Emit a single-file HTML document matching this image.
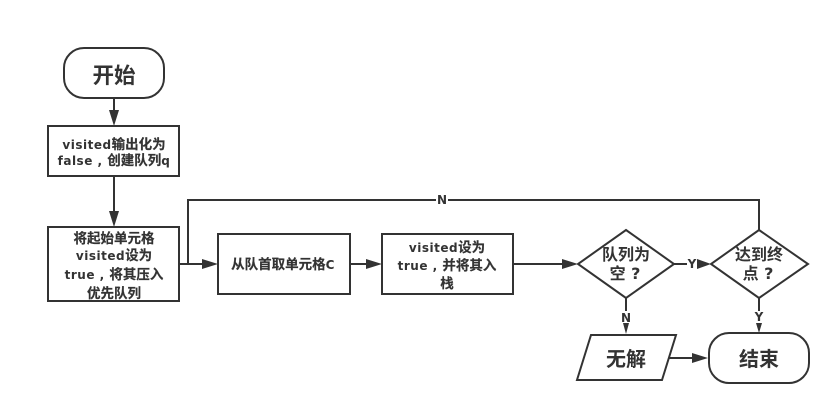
<!DOCTYPE html>
<html>
<head>
<meta charset="utf-8">
<style>
html,body{margin:0;padding:0;background:#fff}
svg{display:block}
text{font-family:"DejaVu Sans","Noto Sans CJK SC",sans-serif;font-weight:700;fill:#333;text-anchor:middle}
.s{font-size:12px;letter-spacing:.5px}
.c{font-size:13.5px;letter-spacing:0;stroke:#333;stroke-width:.2}
.b{font-size:20px}
.h{font-size:21.5px}
.m{font-size:16px}
.l{font-size:12px}
.k{fill:none;stroke:#333;stroke-width:2}
.w{fill:#fff;stroke:#333;stroke-width:2}
.a{fill:#333;stroke:none}
</style>
</head>
<body>
<svg width="840" height="414" viewBox="0 0 840 414" xmlns="http://www.w3.org/2000/svg">
<rect width="840" height="414" fill="#fff"/>

<!-- connectors -->
<path class="k" d="M114 98V116"/>
<path class="a" d="M109 110H119L114 126Z"/>
<path class="k" d="M114 176V217"/>
<path class="a" d="M109 211H119L114 227Z"/>
<path class="k" d="M179 264H208"/>
<path class="a" d="M202 259L218 264L202 269Z"/>
<path class="k" d="M188 264V200H759V230"/>
<path class="k" d="M350 264H372"/>
<path class="a" d="M366 259L382 264L366 269Z"/>
<path class="k" d="M513 264H568"/>
<path class="a" d="M562 259L578 264L562 269Z"/>
<path class="k" d="M674 264H700"/>
<path class="a" d="M697 259L711 264L697 269Z"/>
<path class="k" d="M626 298V325"/>
<path class="a" d="M623 323H629L626 334Z"/>
<path class="k" d="M759 298V325"/>
<path class="a" d="M756 323H762L759 333Z"/>
<path class="k" d="M669 358H699"/>
<path class="a" d="M692 353L708 358L692 363Z"/>

<!-- nodes -->
<rect class="w" x="64" y="48" width="100" height="50" rx="20" ry="20"/>
<rect class="w" x="48" y="126" width="131" height="50"/>
<rect class="w" x="48" y="227" width="131" height="74"/>
<rect class="w" x="218" y="234" width="132" height="60"/>
<rect class="w" x="382" y="234" width="131" height="60"/>
<path class="w" d="M626 230L674 264L626 298L578 264Z"/>
<path class="w" d="M759 230L808 264L759 298L711 264Z"/>
<path class="w" d="M591 335H676L662 380H577Z"/>
<rect class="w" x="709" y="333" width="100" height="50" rx="20" ry="20"/>

<!-- labels -->
<text class="h" x="114" y="83">开始</text>
<text class="s" x="114" y="149">visited<tspan class="c">输出化为</tspan></text>
<text class="s" x="114" y="165">false , <tspan class="c">创建队列</tspan>q</text>
<text class="s" x="114" y="243"><tspan class="c">将起始单元格</tspan></text>
<text class="s" x="114" y="260">visited<tspan class="c">设为</tspan></text>
<text class="s" x="114" y="279">true , <tspan class="c">将其压入</tspan></text>
<text class="s" x="114" y="298"><tspan class="c">优先队列</tspan></text>
<text class="s" x="283" y="269"><tspan class="c">从队首取单元格</tspan>C</text>
<text class="s" x="447" y="252">visited<tspan class="c">设为</tspan></text>
<text class="s" x="447" y="270">true , <tspan class="c">并将其入</tspan></text>
<text class="s" x="447" y="288"><tspan class="c">栈</tspan></text>
<text class="m" x="626" y="260">队列为</text>
<text class="m" x="625" y="279">空 ?</text>
<text class="m" x="759" y="260">达到终</text>
<text class="m" x="758" y="279">点 ?</text>
<text class="b" x="626" y="366">无解</text>
<text class="b" x="759" y="366">结束</text>

<rect x="436" y="194" width="12" height="12" fill="#fff"/>
<text class="l" x="442" y="204">N</text>
<rect x="687" y="258" width="10" height="12" fill="#fff"/>
<text class="l" x="692" y="268">Y</text>
<rect x="620" y="311" width="12" height="12" fill="#fff"/>
<text class="l" x="626" y="322">N</text>
<rect x="754" y="311" width="10" height="12" fill="#fff"/>
<text class="l" x="759" y="321">Y</text>
</svg>
</body>
</html>
